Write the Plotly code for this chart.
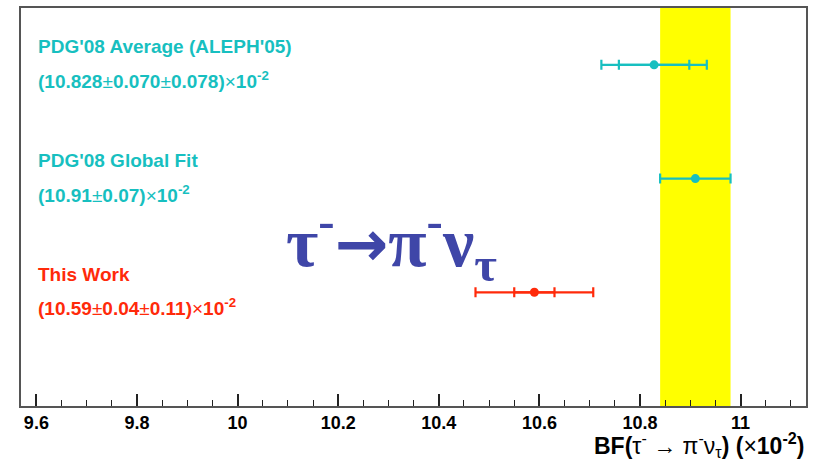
import math
import plotly.graph_objects as go

# Measurements of BF(tau- -> pi- nu_tau), in units of 1e-2
names = ["PDG'08 Average (ALEPH'05)", "PDG'08 Global Fit", "This Work"]
values = [10.828, 10.91, 10.59]
stat_err = [0.070, 0.07, 0.04]
syst_err = [0.078, None, 0.11]
value_text = [
    "(10.828{pm}0.070{pm}0.078){x}10<sup>-2</sup>",
    "(10.91{pm}0.07){x}10<sup>-2</sup>",
    "(10.59{pm}0.04{pm}0.11){x}10<sup>-2</sup>",
]
rows = [3, 2, 1]
colors = ["#17bfc0", "#17bfc0", "#ff2a0a"]

# x axis ticks
tick_vals = [9.6, 9.8, 10.0, 10.2, 10.4, 10.6, 10.8, 11.0]
tick_text = ["9.6", "9.8", "10", "10.2", "10.4", "10.6", "10.8", "11"]

LABEL_FONT = "Liberation Sans"
PM = '</b><span style="font-weight:normal">±</span><b>'
TIMES = '</b><span style="font-weight:normal">×</span><b>'

fig = go.Figure()

# Band showing the global-fit value and its uncertainty
gf = names.index("PDG'08 Global Fit")
fig.add_shape(
    type="rect", xref="x", yref="paper",
    x0=values[gf] - stat_err[gf], x1=values[gf] + stat_err[gf],
    y0=0, y1=1, fillcolor="#ffff00", line=dict(width=0), layer="below",
)

for name, v, s, sy, txt, yy, c in zip(names, values, stat_err, syst_err, value_text, rows, colors):
    total = math.hypot(s, sy) if sy is not None else s
    # total uncertainty with end caps, plus the central point
    fig.add_trace(go.Scatter(
        x=[v], y=[yy], mode="markers",
        marker=dict(color=c, size=9),
        error_x=dict(type="data", array=[total], color=c, thickness=2.2, width=5),
        showlegend=False, hoverinfo="skip",
    ))
    if sy is not None:
        # statistical-only uncertainty drawn as inner ticks
        fig.add_trace(go.Scatter(
            x=[v], y=[yy], mode="markers",
            marker=dict(color="rgba(0,0,0,0)", size=1),
            error_x=dict(type="data", array=[s], color=c, thickness=2.2, width=5),
            showlegend=False, hoverinfo="skip",
        ))
    fig.add_annotation(
        x=9.6, y=yy, xref="x", yref="y", xanchor="left", yanchor="middle",
        text=f"<b>{name}</b>", showarrow=False, yshift=18,
        font=dict(family=LABEL_FONT, size=19, color=c),
    )
    fig.add_annotation(
        x=9.6, y=yy, xref="x", yref="y", xanchor="left", yanchor="middle",
        text="<b>" + txt.format(pm=PM, x=TIMES) + "</b>", showarrow=False, yshift=-15,
        font=dict(family=LABEL_FONT, size=19, color=c),
    )

# Decay mode
arrow = '<span style="font-family:\'DejaVu Sans\';font-size:64px">→</span>'
fig.add_annotation(
    x=0.335, y=0.41, xref="paper", yref="paper", xanchor="left", yanchor="middle",
    text=f"<b>τ<sup>-</sup>{arrow}π<sup>-</sup>ν<sub>τ</sub></b>", showarrow=False,
    font=dict(family="Liberation Serif", size=70, color="#3f46a8"),
)

# Axis title
fig.add_annotation(
    x=1.0, y=-0.097, xref="paper", yref="paper", xanchor="right", yanchor="middle",
    text="<b>BF(</b>τ<sup>-</sup> → π<sup>-</sup>ν<sub>τ</sub><b>) (</b>×<b>10<sup>-2</sup>)</b>",
    showarrow=False,
    font=dict(family="Liberation Sans", size=23, color="black"),
)

fig.update_layout(
    width=816, height=469,
    margin=dict(l=21, r=10, t=6, b=63),
    paper_bgcolor="white", plot_bgcolor="white",
    xaxis=dict(
        range=[9.5694, 11.130],
        tickvals=tick_vals, ticktext=tick_text,
        ticks="inside", ticklen=12, tickwidth=1.5, tickcolor="#222",
        minor=dict(dtick=0.05, tick0=9.6, ticks="inside", ticklen=6, tickwidth=1.2, tickcolor="#222"),
        showline=True, linecolor="#555", linewidth=1.5, mirror=True,
        showgrid=False, zeroline=False,
        tickfont=dict(family="Liberation Sans", size=18, color="black", weight="bold"),
    ),
    yaxis=dict(
        range=[0, 3.5], showticklabels=False, ticks="",
        showline=True, linecolor="#555", linewidth=1.5, mirror=True,
        showgrid=False, zeroline=False,
    ),
)

fig.write_html("out.html")
